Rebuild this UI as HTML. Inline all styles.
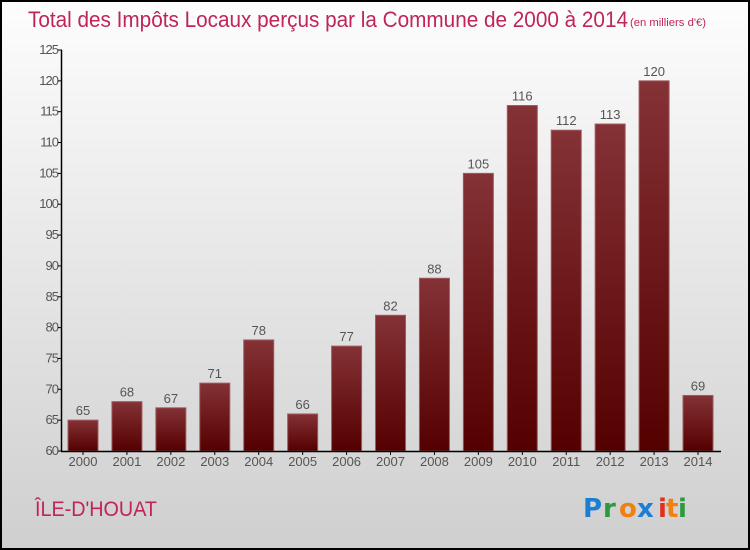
<!DOCTYPE html>
<html><head><meta charset="utf-8"><style>
body{margin:0;width:750px;height:550px;overflow:hidden}
svg{display:block;font-family:"Liberation Sans","DejaVu Sans",sans-serif}
</style></head><body>
<svg id="c" width="750" height="550">
<defs>
<linearGradient id="bg" x1="0" y1="0" x2="0" y2="1"><stop offset="0" stop-color="#fdfdfd"/><stop offset="1" stop-color="#cfcfcf"/></linearGradient>
<linearGradient id="bar" x1="0" y1="0" x2="0" y2="1"><stop offset="0" stop-color="#843236"/><stop offset="1" stop-color="#550000"/></linearGradient>
</defs>
<rect x="1" y="1" width="748" height="548" fill="url(#bg)" stroke="#000" stroke-width="2"/>
<text x="28" y="27" font-size="22" fill="#c0245a" textLength="600" lengthAdjust="spacingAndGlyphs">Total des Impôts Locaux perçus par la Commune de 2000 à 2014</text>
<text x="630" y="26" font-size="11" fill="#c0245a" textLength="76" lengthAdjust="spacingAndGlyphs">(en milliers d'€)</text>
<g id="g"></g>
<text x="35" y="516" font-size="21" fill="#c0245a" textLength="122" lengthAdjust="spacingAndGlyphs">ÎLE-D'HOUAT</text>
<g font-size="26" font-weight="bold" font-family="DejaVu Sans,sans-serif">
<text x="583" y="517" fill="#1a7fd4">P</text><text x="603" y="517" fill="#2a9a3a">r</text><text x="619" y="517" fill="#f08010">o</text><text x="637" y="517" fill="#1a7fd4">x</text><text x="658" y="517" fill="#e03020">i</text><text x="666" y="517" fill="#f08010">t</text><text x="678" y="517" fill="#2a9a3a">i</text>
</g>
</svg>
<script>
const years=["2000","2001","2002","2003","2004","2005","2006","2007","2008","2009","2010","2011","2012","2013","2014"];
const values=[65,68,67,71,78,66,77,82,88,105,116,112,113,120,69];
const yTicks=[60,65,70,75,80,85,90,95,100,105,110,115,120,125];
const ns="http://www.w3.org/2000/svg",g=document.getElementById('g');
const y0=451,y1=50,vmin=60,vmax=125;
const y=v=>y0-(v-vmin)/(vmax-vmin)*(y0-y1);
const x=i=>83+i*43.93;
function mk(t,a,txt){const e=document.createElementNS(ns,t);for(const k in a)e.setAttribute(k,a[k]);if(txt!=null)e.textContent=txt;g.appendChild(e);return e;}
years.forEach((yr,i)=>{
 const r=mk('rect',{x:x(i)-15,y:y(values[i]),width:30,height:y0-y(values[i]),fill:'url(#bar)',stroke:'#a05a5e','stroke-width':1});
 
 
 const l=mk('text',{x:x(i),y:y(values[i])-5,'font-size':13,fill:'#555','text-anchor':'middle'},values[i]);
 
 
 const t=mk('text',{x:x(i),y:466,'font-size':13,fill:'#555','text-anchor':'middle'},yr);
 
 
 const tk=mk('line',{x1:x(i),x2:x(i),y1:y0,y2:y0+4,stroke:'#000'});
 
 
});
yTicks.forEach(v=>{
 const t=mk('text',{x:58,y:y(v)+4,'font-size':13,fill:'#555','text-anchor':'end','letter-spacing':'-1'},v);
 
 
 const tk=mk('line',{x1:58,x2:62,y1:y(v),y2:y(v),stroke:'#000'});
 
 
});
const ya=mk('line',{x1:61.5,x2:61.5,y1:y1,y2:y0,stroke:'#000','stroke-width':1.5});


const xa=mk('line',{x1:61,x2:721,y1:y0+0.5,y2:y0+0.5,stroke:'#000','stroke-width':1.5});


</script>
</body></html>
